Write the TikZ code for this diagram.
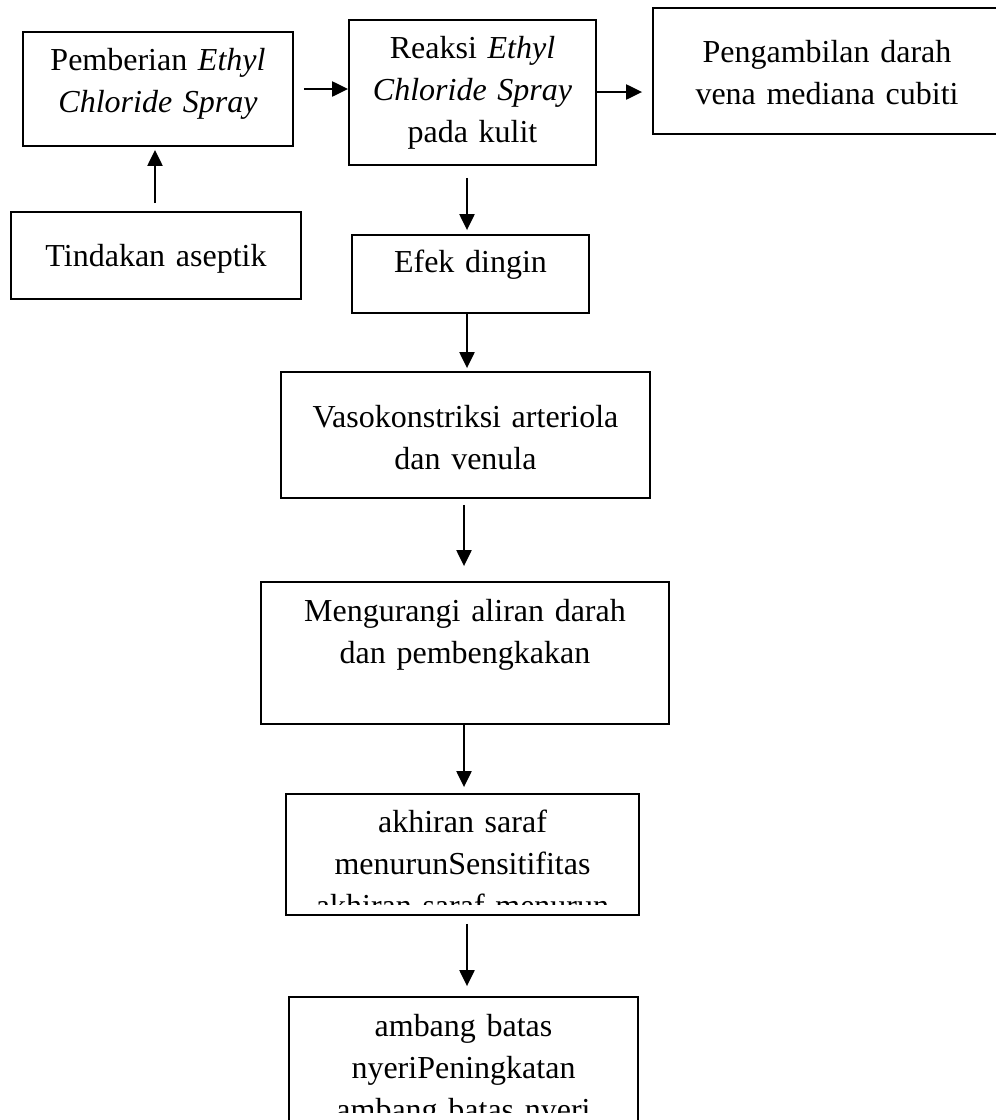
\documentclass[tikz,border=0pt]{standalone}
\usepackage{fontspec}
\setmainfont{Liberation Serif}
\usetikzlibrary{arrows.meta}
\tikzset{
  kotak/.style={draw, line width=0.9pt, inner sep=0pt},
  teks/.style={anchor=base, align=center, text width=#1, inner sep=0pt,
    font=\fontsize{16}{21}\selectfont},
  panah/.style={-{Triangle[length=8pt,width=7.5pt]}, line width=1.1pt}
}
\begin{document}
\begin{tikzpicture}[x=0.5pt,y=-0.5pt]
\useasboundingbox (0,0) rectangle (996,1120);
% kotak atas
\node[kotak, minimum width=135pt, minimum height=57pt] (pemb) at (158,89) {};
\node[teks=135pt] (pembT) at ([yshift=-19.5pt]pemb.north) {Pemberian \textit{Ethyl}\\ \textit{Chloride Spray}};
\node[kotak, minimum width=123.5pt, minimum height=72.5pt] (reaksi) at (472.5,92.5) {};
\node[teks=123.5pt] (reaksiT) at ([yshift=-19.5pt]reaksi.north) {Reaksi \textit{Ethyl}\\ \textit{Chloride Spray}\\ pada kulit};
\node[kotak, minimum width=174pt, minimum height=63pt] (ambil) at (827,71) {};
\node[teks=174pt] (ambilT) at ([yshift=-27.5pt]ambil.north) {Pengambilan darah\\ vena mediana cubiti};
\node[kotak, minimum width=145pt, minimum height=43.5pt] (asep) at (156,255.5) {};
\node[teks=145pt] (asepT) at ([yshift=-27.5pt]asep.north) {Tindakan aseptik};
% kolom tengah
\node[kotak, minimum width=118.5pt, minimum height=39pt] (efek) at (470.5,274) {};
\node[teks=118.5pt] (efekT) at ([yshift=-19pt]efek.north) {Efek dingin};
\node[kotak, minimum width=184.5pt, minimum height=63pt] (vaso) at (465.5,435) {};
\node[teks=184.5pt] (vasoT) at ([yshift=-28pt]vaso.north) {Vasokonstriksi arteriola\\ dan venula};
\node[kotak, minimum width=204pt, minimum height=71pt] (kurang) at (465,653) {};
\node[teks=204pt] (kurangT) at ([yshift=-20pt]kurang.north) {Mengurangi aliran darah\\ dan pembengkakan};
\node[kotak, minimum width=176.5pt, minimum height=60.5pt] (saraf) at (462.5,854.5) {};
\begin{scope}
\clip (saraf.north west) rectangle ([yshift=5.5pt]saraf.south east);
\node[teks=176.5pt] (sarafT) at ([yshift=-19.5pt]saraf.north) {akhiran saraf\\ menurunSensitifitas\\ akhiran saraf menurun};
\end{scope}
\node[kotak, minimum width=174.5pt, minimum height=70pt] (ambang) at (463.5,1067) {};
\begin{scope}
\clip (ambang.north west) rectangle ([yshift=-58pt]ambang.north east);
\node[teks=174.5pt] (ambangT) at ([yshift=-20pt]ambang.north) {ambang batas\\ nyeriPeningkatan\\ ambang batas nyeri};
\end{scope}
% panah
\draw[panah] ([xshift=-0.5pt,yshift=4pt]asep.north) -- ([xshift=-0.5pt,yshift=-1.5pt]asep.north |- pemb.south);
\draw[panah] ([xshift=5pt]pemb.east) -- (pemb.east -| reaksi.west);
\draw[panah] (reaksi.east |- 0,92) -- ([xshift=-5pt]ambil.west |- 0,92);
\draw[panah] ([xshift=-2.75pt,yshift=-6pt]reaksi.south) -- ([xshift=-2.75pt,yshift=2pt]reaksi.south |- efek.north);
\draw[panah] ([xshift=-1.75pt]efek.south) -- ([xshift=-1.75pt,yshift=1.5pt]efek.south |- vaso.north);
\draw[panah] ([xshift=-0.75pt,yshift=-3pt]vaso.south) -- ([xshift=-0.75pt,yshift=7.5pt]vaso.south |- kurang.north);
\draw[panah] ([xshift=-0.5pt]kurang.south) -- ([xshift=-0.5pt,yshift=3pt]kurang.south |- saraf.north);
\draw[panah] ([xshift=2.25pt,yshift=-4pt]saraf.south) -- ([xshift=2.25pt,yshift=5pt]saraf.south |- ambang.north);
\end{tikzpicture}
\end{document}
